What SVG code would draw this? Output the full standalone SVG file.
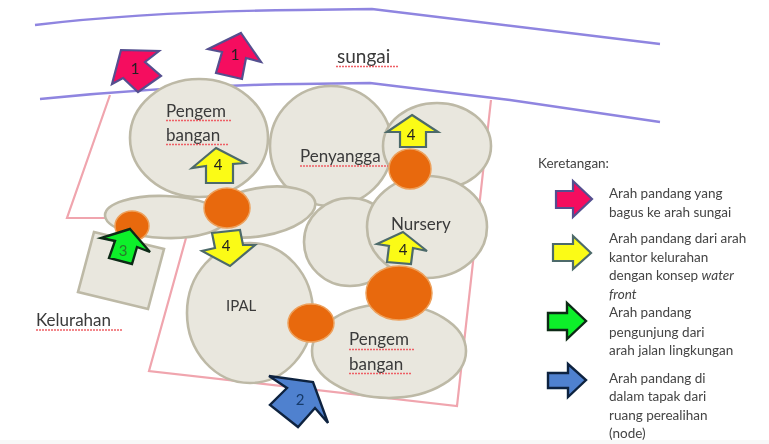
<svg xmlns="http://www.w3.org/2000/svg" width="769" height="444" viewBox="0 0 769 444">
<defs><filter id="soft" x="-5%" y="-5%" width="110%" height="110%"><feGaussianBlur stdDeviation="0.55"/></filter></defs>
<style>
text{font-family:"Lato","Open Sans",sans-serif;fill:#3a3a3a}
.river{fill:none;stroke:#8f85e0;stroke-width:2.4}
.site{fill:none;stroke:#f0a5ae;stroke-width:2.2}
.zone{fill:#e9e7de;stroke:#bdb9a6;stroke-width:2.6}
.node{fill:#e8690b;stroke:#eda05c;stroke-width:1.5}
.lbl{font-size:17px}
.leg{font-size:13.5px;fill:#444}
.num{font-size:15px;fill:#222;text-anchor:middle}
.pink{fill:#f5075f;stroke:#55508f;stroke-width:2.2}
.yellow{fill:#fbfb14;stroke:#4d6b6a;stroke-width:2.2}
.green{fill:#0bf02c;stroke:#0c2a16;stroke-width:2.4}
.blue{fill:#4f81cf;stroke:#10243f;stroke-width:2.4}
.sq{fill:none;stroke:#ee5f66;stroke-width:1.3;stroke-dasharray:2 1}
</style>
<rect width="769" height="444" fill="#fff"/>
<rect y="440" width="769" height="4" fill="#f8f8f8"/>
<g filter="url(#soft)">
<g id="connectors">
<path class="river" d="M35 25C110 16 200 11 300 10L372 9L660 44"/>
<path class="river" d="M40 99C110 92 200 85 300 84L370 83L510 100L660 122"/>
<path class="site" d="M110 95L67 218L112 218"/>
<path class="site" d="M186 238L149 371L457 406L491 100"/>
</g>
<g id="zone-pengembangan-atas"><ellipse class="zone" cx="199" cy="138" rx="69" ry="59"/><text class="lbl" x="166" y="117">Pengem</text><text class="lbl" x="166" y="141">bangan</text><path class="sq" d="M166 120.500H232M166 144.500H228"/></g>
<g id="zone-penyangga"><ellipse class="zone" cx="331" cy="146" rx="61" ry="60"/></g>
<g id="zone-kanan"><ellipse class="zone" cx="437" cy="146" rx="54" ry="43"/></g>
<g id="zone-tengah"><ellipse class="zone" cx="350" cy="242" rx="46" ry="44"/></g>
<g id="zone-nursery"><ellipse class="zone" cx="427" cy="227" rx="60" ry="51"/><text class="lbl" x="391" y="230">Nursery</text></g>
<g id="zone-pipih-kanan"><ellipse class="zone" cx="260" cy="212" rx="56" ry="24" transform="rotate(-10 260 212)"/></g>
<g id="zone-pipih-kiri"><ellipse class="zone" cx="165" cy="217" rx="60" ry="21" transform="rotate(2 165 217)"/></g>
<g id="zone-kelurahan"><polygon class="zone" points="94,232 164,249 148,309 78,292"/></g>
<g id="zone-ipal"><ellipse class="zone" cx="250" cy="313" rx="63" ry="70"/><text x="226" y="311" style="font-size:15px">IPAL</text></g>
<g id="zone-pengembangan-bawah"><ellipse class="zone" cx="389" cy="351" rx="77" ry="47"/><text class="lbl" x="349" y="345">Pengem</text><text class="lbl" x="349" y="370">bangan</text><path class="sq" d="M349 349.500H415M349 373.500H412"/></g>
<g id="label-penyangga"><text class="lbl" x="300" y="162">Penyangga</text><path class="sq" d="M300 166H388"/></g>
<g id="label-sungai"><text x="337" y="63" style="font-size:19px">sungai</text><path class="sq" d="M336 66.500H398"/></g>
<g id="label-kelurahan"><text x="36" y="326" style="font-size:17px">Kelurahan</text><path class="sq" d="M36 330H122"/></g>
<g id="node-1"><ellipse class="node" cx="227" cy="208" rx="23" ry="20"/></g>
<g id="node-2"><ellipse class="node" cx="132" cy="226" rx="17" ry="15"/></g>
<g id="node-3"><ellipse class="node" cx="410" cy="169" rx="21" ry="20"/></g>
<g id="node-4"><ellipse class="node" cx="399" cy="293" rx="33" ry="27"/></g>
<g id="node-5"><ellipse class="node" cx="311" cy="323" rx="23" ry="19"/></g>
<g id="arrow-1a"><polygon class="pink" points="121,50 159,51 145,62 161,76 138,92 123,78 112,84"/><text class="num" x="135" y="74">1</text></g>
<g id="arrow-1b"><polygon class="pink" points="241,33 261,62 246,58 242,79 216,73 222,52 208,49"/><text class="num" x="235" y="60">1</text></g>
<g id="arrow-4a"><polygon class="yellow" points="216,148 245,163 233,164 233,183 206,183 206,166 192,168"/><text class="num" x="218" y="170">4</text></g>
<g id="arrow-4b"><polygon class="yellow" points="212,233 240,230 243,245 255,245 230,266 202,251 215,248"/><text class="num" x="226" y="251">4</text></g>
<g id="arrow-4c"><polygon class="yellow" points="412,115 438,132 426,132 426,147 400,147 400,132 387,132"/><text class="num" x="411" y="140">4</text></g>
<g id="arrow-4d"><polygon class="yellow" points="403,232 427,251 413,248 411,264 387,262 389,246 377,244"/><text class="num" x="403" y="255">4</text></g>
<g id="arrow-3"><polygon class="green" points="130,229 150,252 137,247 132,264 109,258 115,241 101,238"/><text class="num" x="123" y="256" style="fill:#2a7a2a">3</text></g>
<g id="arrow-2"><polygon class="blue" points="269,376 313,382 328,423 315,408 298,427 270,405 287,388"/><text class="num" x="300" y="405" style="fill:#173a6a">2</text></g>
<g id="legend">
<text class="leg" x="538" y="168">Keretangan:</text>
<polygon class="pink" points="556,191 573,191 573,181 592,199 573,217 573,208 556,208"/>
<polygon class="yellow" points="553,244 573,244 573,236 591,253 573,269 573,261 553,261"/>
<polygon class="green" points="548,313 567,313 567,303 586,321 567,339 567,330 548,330"/>
<polygon class="blue" points="548,373 568,373 568,364 586,380 568,397 568,388 548,388"/>
<text class="leg" x="609" y="198">Arah pandang yang</text>
<text class="leg" x="609" y="217">bagus ke arah sungai</text>
<text class="leg" x="609" y="243">Arah pandang dari arah</text>
<text class="leg" x="609" y="262">kantor kelurahan</text>
<text class="leg" x="609" y="280">dengan konsep <tspan font-style="italic">water</tspan></text>
<text class="leg" x="609" y="299" font-style="italic">front</text>
<text class="leg" x="609" y="317">Arah pandang</text>
<text class="leg" x="609" y="337">pengunjung dari</text>
<text class="leg" x="609" y="355">arah jalan lingkungan</text>
<text class="leg" x="609" y="383">Arah pandang di</text>
<text class="leg" x="609" y="401">dalam tapak dari</text>
<text class="leg" x="609" y="420">ruang perealihan</text>
<text class="leg" x="609" y="438">(node)</text>
</g>
</g>
</svg>
